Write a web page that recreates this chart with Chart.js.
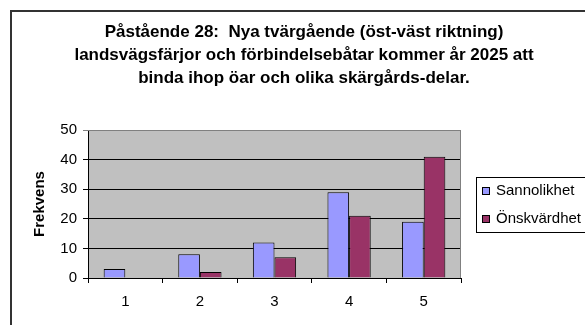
<!DOCTYPE html>
<html>
<head>
<meta charset="utf-8">
<script src="https://cdn.jsdelivr.net/npm/chart.js@4/dist/chart.umd.min.js"></script>
<style>
  html, body { margin: 0; padding: 0; background: #fff; overflow: hidden; }
  #wrap { position: absolute; left: 0; top: 0; width: 597px; height: 325px; }
</style>
</head>
<body>
<div id="wrap"><canvas id="chart"></canvas></div>
<script>
const categories = ['1', '2', '3', '4', '5'];
const sannolikhet = [3, 8, 12, 29, 19];
const onskvardhet = [0, 2, 7, 21, 41];
const seriesNames = ['Sannolikhet', 'Önskvärdhet'];
const titleLines = [
    'Påstående 28:  Nya tvärgående (öst-väst riktning)',
    'landsvägsfärjor och förbindelsebåtar kommer år 2025 att',
    'binda ihop öar och olika skärgårds-delar.'
];
const yMax = 50;
const yStep = 10;

const FONT = 'Arial, "Liberation Sans", sans-serif';

// frame, grey plot background and plot border
const plotBg = {
    id: 'plotBg',
    beforeDraw(chart) {
        const ctx = chart.ctx;
        const a = chart.chartArea;
        ctx.save();
        ctx.fillStyle = '#fff';
        ctx.fillRect(0, 0, chart.width, chart.height);
        ctx.strokeStyle = '#333';
        ctx.lineWidth = 2;
        ctx.beginPath();
        ctx.moveTo(11, chart.height);
        ctx.lineTo(11, 11);
        ctx.lineTo(chart.width, 11);
        ctx.stroke();
        ctx.fillStyle = '#C0C0C0';
        ctx.fillRect(a.left, a.top, a.right - a.left, a.bottom - a.top);
        ctx.restore();
    },
    afterDatasetsDraw(chart) {
        const ctx = chart.ctx;
        const a = chart.chartArea;
        ctx.save();
        ctx.strokeStyle = '#808080';
        ctx.lineWidth = 1;
        ctx.beginPath();
        ctx.moveTo(a.left, a.top + 0.5);
        ctx.lineTo(a.right - 0.5, a.top + 0.5);
        ctx.lineTo(a.right - 0.5, a.bottom);
        ctx.stroke();
        ctx.restore();
    }
};

// three-line bold heading, centred over the whole frame
const heading = {
    id: 'heading',
    afterDraw(chart) {
        const ctx = chart.ctx;
        ctx.save();
        ctx.font = 'bold 17px ' + FONT;
        ctx.fillStyle = '#000';
        ctx.textAlign = 'center';
        ctx.textBaseline = 'middle';
        titleLines.forEach((line, i) => ctx.fillText(line, 304, 32 + i * 23));
        ctx.restore();
    }
};

// boxed legend to the right of the plot
const boxLegend = {
    id: 'boxLegend',
    afterDraw(chart) {
        const ctx = chart.ctx;
        const x = 476, y = 177, h = 55;
        ctx.save();
        ctx.strokeStyle = '#000';
        ctx.lineWidth = 1;
        ctx.strokeRect(x + 0.5, y + 0.5, chart.width, h);
        ctx.font = '15px ' + FONT;
        ctx.textBaseline = 'middle';
        chart.data.datasets.forEach((ds, i) => {
            const cy = y + 14 + i * 28;
            ctx.fillStyle = ds.backgroundColor;
            ctx.fillRect(x + 6, cy - 4, 8, 8);
            ctx.strokeRect(x + 6.5, cy - 3.5, 7, 7);
            ctx.fillStyle = '#000';
            ctx.fillText(ds.label, x + 20, cy);
        });
        ctx.restore();
    }
};

new Chart(document.getElementById('chart'), {
    type: 'bar',
    data: {
        labels: categories,
        datasets: [
            { label: seriesNames[0], data: sannolikhet, backgroundColor: '#9999FF' },
            { label: seriesNames[1], data: onskvardhet, backgroundColor: '#993366' }
        ]
    },
    options: {
        responsive: true,
        maintainAspectRatio: false,
        animation: false,
        layout: { padding: { left: 11, right: 136, top: 130, bottom: 4 } },
        datasets: {
            bar: {
                borderColor: '#000',
                borderWidth: 1,
                barPercentage: 1,
                categoryPercentage: 0.58
            }
        },
        plugins: {
            legend: { display: false },
            tooltip: { enabled: false },
            title: { display: false }
        },
        scales: {
            x: {
                grid: {
                    offset: true,
                    drawOnChartArea: false,
                    drawTicks: true,
                    tickLength: 5,
                    color: '#000'
                },
                border: { color: '#000' },
                ticks: {
                    color: '#000',
                    padding: 10,
                    font: { family: FONT, size: 15 }
                }
            },
            y: {
                min: 0,
                max: yMax,
                afterFit(scale) { scale.width = 77; },
                grid: {
                    color: (c) => c.tick && c.tick.value === yMax ? '#808080' : '#000',
                    tickLength: 5
                },
                border: { color: '#000' },
                ticks: {
                    stepSize: yStep,
                    color: '#000',
                    padding: 6,
                    font: { family: FONT, size: 15 }
                },
                title: {
                    display: true,
                    text: 'Frekvens',
                    color: '#000',
                    font: { family: FONT, size: 15, weight: 'bold' },
                    padding: { top: 20, bottom: 0 }
                }
            }
        }
    },
    plugins: [plotBg, heading, boxLegend]
});
</script>
</body>
</html>
